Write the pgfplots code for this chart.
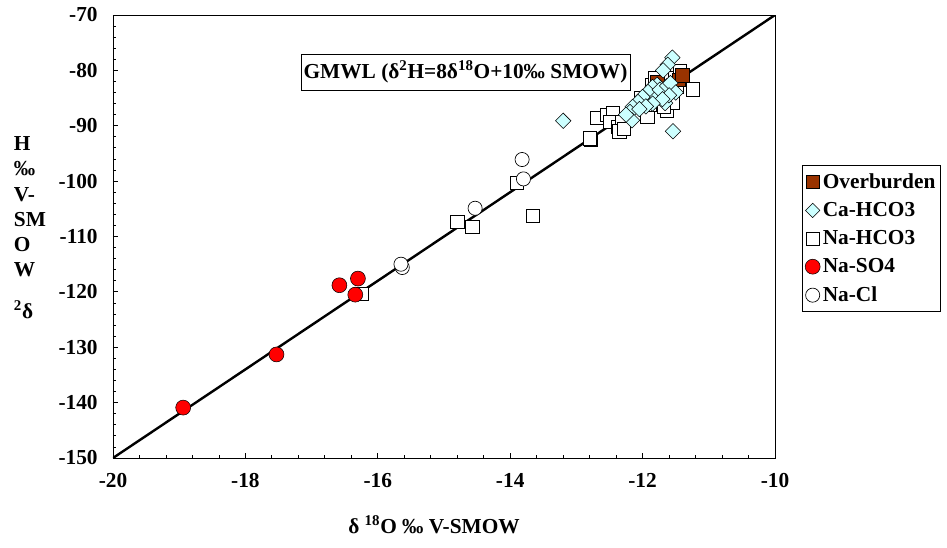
\documentclass[border=0pt]{standalone}
\usepackage{fontspec}
\setmainfont{Liberation Serif}
\usepackage{pgfplots}
\pgfplotsset{compat=1.18}
\definecolor{brn}{HTML}{993300}
\definecolor{cyn}{HTML}{CCFFFF}
\begin{document}
\begin{tikzpicture}
\useasboundingbox (-84.75pt,-67.5pt) rectangle (625.5pt,343.5pt);
\begin{axis}[
  at={(0pt,0pt)}, anchor=south west,
  scale only axis, width=496.5pt, height=332.25pt,
  xmin=-20, xmax=-10, ymin=-150, ymax=-70,
  xtick={-20,-18,-16,-14,-12,-10},
  xticklabels={-20,-18,-16,-14,-12,-10},
  ytick={-150,-140,-130,-120,-110,-100,-90,-80,-70},
  yticklabels={-150,-140,-130,-120,-110,-100,-90,-80,-70},
  minor x tick num=4, minor y tick num=4,
  tick align=inside, tick pos=left,
  major tick length=3.5pt, minor tick length=2.5pt,
  tick style={black, line width=0.6pt},
  axis line style={line width=0.7pt},
  ticklabel style={font=\fontsize{16}{19}\selectfont\bfseries},
  xticklabel style={yshift=-8pt},
  yticklabel style={xshift=-8pt},
  legend style={at={(1.041,0.661)}, anchor=north west, draw=black, line width=0.6pt,
    font=\fontsize{16}{19}\selectfont\bfseries, row sep=5pt, inner xsep=2pt, inner ysep=4pt,
    cells={anchor=west}},
  legend cell align=left,
]
% drawing order: Na-HCO3, Ca-HCO3, Overburden, Na-SO4, Na-Cl, line
\addplot[only marks, mark=square*, mark size=5pt, mark options={fill=white, draw=black, line width=0.5pt}, forget plot]
 coordinates {(-13.90,-100.3) (-13.66,-106.3) (-14.80,-107.3) (-14.57,-108.2) (-16.25,-120.4)
 (-12.78,-92.6) (-12.80,-92.3) (-12.69,-88.6) (-12.54,-88.0) (-12.45,-87.7) (-12.49,-89.3)
 (-12.37,-90.2) (-12.31,-89.3) (-12.35,-91.0) (-12.28,-90.5) (-11.93,-88.4) (-11.86,-82.6)
 (-11.81,-81.4) (-11.70,-85.5) (-11.63,-87.3) (-11.51,-81.4) (-11.44,-80.2) (-11.24,-83.4)
 (-11.59,-84.4) (-11.77,-85.3) (-11.48,-83.0) (-11.55,-85.8) (-11.90,-86.2) (-12.02,-85.0)
 (-11.68,-86.5)};
\addplot[only marks, mark=square*, mark size=5pt, mark options={fill=brn, draw=black, line width=0.4pt}, forget plot]
 coordinates {(-11.78,-82.0) (-11.45,-81.7) (-11.40,-80.9)};
\addplot[only marks, mark=square*, mark size=4.1pt, mark options={rotate=45, fill=cyn, draw=black, line width=0.4pt}, forget plot]
 coordinates {(-13.20,-89.1) (-11.54,-91.0) (-11.55,-77.7) (-11.62,-79.0) (-11.69,-80.0)
 (-11.78,-82.6) (-11.85,-83.0) (-11.92,-83.9) (-12.00,-84.8) (-12.07,-85.7) (-12.15,-86.6)
 (-12.19,-87.5) (-12.16,-89.0) (-12.25,-88.0) (-11.78,-84.8) (-11.74,-83.5) (-11.63,-82.8)
 (-11.58,-82.3) (-11.66,-85.9) (-11.50,-84.0) (-11.60,-84.5) (-11.70,-85.2) (-11.85,-86.0)
 (-11.95,-86.5) (-12.05,-87.0)};
\addplot[only marks, mark=*, mark size=5.6pt, mark options={fill=red, draw=black, line width=0.4pt}, forget plot]
 coordinates {(-18.94,-140.9) (-17.53,-131.3) (-16.58,-118.8) (-16.30,-117.6) (-16.34,-120.5)};
\addplot[only marks, mark=*, mark size=5.3pt, mark options={fill=white, draw=black, line width=0.5pt}, forget plot]
 coordinates {(-15.63,-115.6) (-15.65,-115.0) (-14.53,-104.9) (-13.82,-96.1) (-13.80,-99.6)};
\addplot[black, line width=1.8pt, forget plot] coordinates {(-20,-150) (-10,-70)};
\addlegendimage{only marks, mark=square*, mark size=5pt, mark options={fill=brn, draw=black, line width=0.4pt}}
\addlegendentry{Overburden}
\addlegendimage{only marks, mark=square*, mark size=3.8pt, mark options={rotate=45, fill=cyn, draw=black, line width=0.4pt}}
\addlegendentry{Ca-HCO3}
\addlegendimage{only marks, mark=square*, mark size=5pt, mark options={fill=white, draw=black, line width=0.5pt}}
\addlegendentry{Na-HCO3}
\addlegendimage{only marks, mark=*, mark size=5.6pt, mark options={fill=red, draw=black, line width=0.4pt}}
\addlegendentry{Na-SO4}
\addlegendimage{only marks, mark=*, mark size=5.3pt, mark options={fill=white, draw=black, line width=0.5pt}}
\addlegendentry{Na-Cl}
\end{axis}
\node[draw=black, line width=0.6pt, inner xsep=2pt, inner ysep=5pt, font=\fontsize{16}{19}\selectfont\bfseries]
  at (264.4pt,289.5pt) {GMWL (δ\textsuperscript{2}H=8δ\textsuperscript{18}O+10‰ SMOW)};
\node[anchor=north west, align=left, inner sep=0pt, font=\fontsize{16}{18.8}\selectfont\bfseries]
  at (-74.5pt,241pt) {H\\‰\\V-\\SM\\O\\W\\[13pt]\textsuperscript{2}δ};
\node[font=\fontsize{16}{19}\selectfont\bfseries] at (240.75pt,-50.25pt) {δ \textsuperscript{18}O ‰ V-SMOW};
\end{tikzpicture}
\end{document}
